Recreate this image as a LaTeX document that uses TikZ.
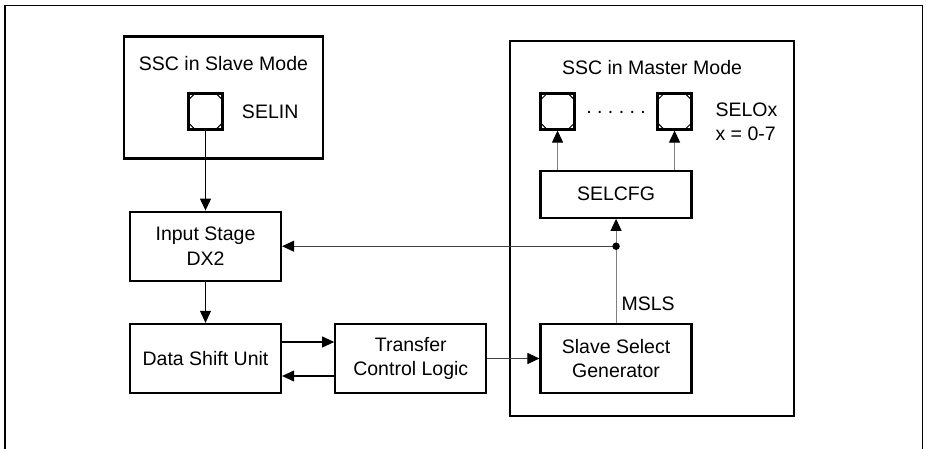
\documentclass[tikz,border=0pt]{standalone}
\usepackage{fontspec}
\setmainfont{Liberation Sans}
\usetikzlibrary{arrows.meta, positioning, calc}
\tikzset{
  block/.style={rectangle, draw=black, line width=1.3pt, fill=white,
                minimum width=3.02cm, minimum height=1.38cm, inner sep=0pt,
                align=center, font=\fontsize{11.1}{13.7}\selectfont},
  modebox/.style={rectangle, draw=black, line width=1.3pt, inner sep=0pt},
  title/.style={font=\fontsize{11.1}{13.7}\selectfont, inner sep=0pt},
  pad/.style={rectangle, draw=black, line width=1.3pt, fill=white,
              minimum width=0.68cm, minimum height=0.72cm, inner sep=0pt,
              path picture={
                \draw[line width=0.6pt]
                  ([yshift=-0.13cm]path picture bounding box.north west) -- ([xshift=0.13cm]path picture bounding box.north west)
                  ([xshift=-0.13cm]path picture bounding box.north east) -- ([yshift=-0.13cm]path picture bounding box.north east)
                  ([yshift=0.13cm]path picture bounding box.south west) -- ([xshift=0.13cm]path picture bounding box.south west)
                  ([xshift=-0.13cm]path picture bounding box.south east) -- ([yshift=0.13cm]path picture bounding box.south east);
              }},
  arrow/.style={-{Triangle[length=0.24cm, width=0.22cm]}, line width=0.6pt},
  darkarr/.style={arrow, draw=black!75, -{Triangle[length=0.24cm, width=0.22cm, color=black]}},
  grayarr/.style={arrow, draw=gray, -{Triangle[length=0.24cm, width=0.22cm, color=black]}},
}
\begin{document}
\begin{tikzpicture}[node distance=0.82cm and 1.04cm]
\useasboundingbox (0,0) rectangle (18.52,-8.98);
\draw[line width=1.1pt] (0.10,-8.98) |- (18.45,-0.11) -- (18.45,-8.98);

\node[block] (dsu) at (4.11,-7.17) {Data Shift Unit};
\node[block, right=of dsu] (tcl) {Transfer\\Control Logic};
\node[block, right=of tcl] (ssg) {Slave Select\\Generator};
\node[block, above=of dsu] (instage) {Input Stage\\DX2};
\node[block, minimum height=0.94cm, above=2.08cm of ssg] (selcfg) {SELCFG};

% slave side
\node[modebox, minimum width=3.98cm, minimum height=2.44cm,
      above=1.02cm of instage, xshift=0.36cm] (slave) {};
\node[title] (slavettl) at ([yshift=-0.56cm]slave.north) {SSC in Slave Mode};
\node[pad, above=1.6cm of instage] (selin) {};
\node[title, right=0.36cm of selin] (selinlbl) {SELIN};

% master side
\node[modebox, minimum width=5.68cm, minimum height=7.50cm] (master) at (13.04,-4.57) {};
\node[title] (masterttl) at ([yshift=-0.56cm]master.north) {SSC in Master Mode};
\node[pad, above right=0.78cm and 0cm of selcfg.north west] (selo0) {};
\node[pad, above left=0.78cm and 0cm of selcfg.north east] (selo7) {};
\node[title, anchor=base] (dots) at ($(selo0)!0.5!(selo7)+(0,-0.04)$) {.\ .\ .\ .\ .\ .};
\node[title, align=left, below right=0.2cm and 0.45cm of selo7.north east] (selolbl)
  {SELOx\\x = 0-7};

\draw[arrow] (selin) -- (instage);
\draw[arrow] (instage) -- (dsu);
\draw[arrow] ([yshift=0.33cm]dsu.east) -- ([yshift=0.33cm]tcl.west);
\draw[arrow] ([yshift=-0.35cm]tcl.west) -- ([yshift=-0.35cm]dsu.east);
\draw[darkarr] (tcl) -- (ssg);

\coordinate (split) at (ssg |- instage);
\draw[grayarr] (ssg) -- node[title, pos=0.18, right=0.1cm] (msls) {MSLS} (selcfg);
\draw[darkarr] (split) -- (instage);
\fill (split) circle (0.075cm);
\draw[grayarr] (selcfg.north -| selo0) -- (selo0);
\draw[grayarr] (selcfg.north -| selo7) -- (selo7);
\end{tikzpicture}
\end{document}
